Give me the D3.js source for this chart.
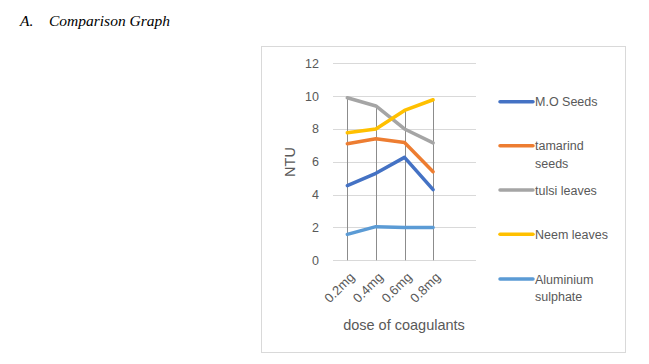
<!DOCTYPE html>
<html><head><meta charset="utf-8">
<script src="https://cdn.jsdelivr.net/npm/d3@7"></script>
<style>body{margin:0;background:#fff}svg{display:block}</style>
</head><body>
<script>
const categories = ["0.2mg","0.4mg","0.6mg","0.8mg"];
const seriesNames = ["M.O Seeds","tamarind seeds","tulsi leaves","Neem leaves","Aluminium sulphate"];
const moSeeds = [4.55, 5.3, 6.27, 4.3];
const tamarind = [7.1, 7.4, 7.17, 5.4];
const tulsi = [9.9, 9.4, 8.0, 7.15];
const neem = [7.77, 8.0, 9.13, 9.78];
const alum = [1.58, 2.05, 2.0, 2.0];
const yTicks = [0,2,4,6,8,10,12];
const colors = ["#4472C4","#ED7D31","#A5A5A5","#FFC000","#5B9BD5"];
const data = [moSeeds, tamarind, tulsi, neem, alum];

const W=649,H=364;
const svg=d3.select("body").append("svg").attr("width",W).attr("height",H);
const font="'Liberation Sans', Arial, sans-serif";

svg.append("text").attr("x",20).attr("y",26).attr("font-family","'Liberation Serif', serif")
  .attr("font-style","italic").attr("font-size",15.5).attr("fill","#000").text("A.");
svg.append("text").attr("x",49).attr("y",26).attr("font-family","'Liberation Serif', serif")
  .attr("font-style","italic").attr("font-size",15.5).attr("fill","#000").text("Comparison Graph");

svg.append("rect").attr("x",261.5).attr("y",46.5).attr("width",364).attr("height",306)
  .attr("fill","#fff").attr("stroke","#d9d9d9");

const x=d3.scaleBand().domain([...categories,""]).range([333,476]);
const y=d3.scaleLinear().domain([0,12]).range([260.3,63.3]);

// gridlines
svg.append("g").selectAll("line").data(yTicks).join("line")
  .attr("x1",333).attr("x2",476).attr("y1",d=>Math.round(y(d))+0.5).attr("y2",d=>Math.round(y(d))+0.5)
  .attr("stroke","#d9d9d9").attr("stroke-width",1);

svg.append("g").selectAll("text").data(yTicks).join("text")
  .attr("x",319).attr("y",d=>y(d)+4.5).attr("text-anchor","end")
  .attr("font-family",font).attr("font-size",12.5).attr("fill","#595959").text(d=>d);

// drop lines
const cx=c=>x(c)+x.bandwidth()/2;
svg.append("g").selectAll("line").data(categories).join("line")
  .attr("x1",c=>Math.round(cx(c))+0.5).attr("x2",c=>Math.round(cx(c))+0.5)
  .attr("y1",(c,i)=>y(d3.max(data,s=>s[i]))).attr("y2",y(0))
  .attr("stroke","#8c8c8c").attr("stroke-width",1);

// lines
const line=d3.line().x((d,i)=>cx(categories[i])).y(d=>y(d));
svg.append("g").selectAll("path").data(data).join("path")
  .attr("d",d=>line(d)).attr("fill","none").attr("stroke",(d,i)=>colors[i])
  .attr("stroke-width",3.5).attr("stroke-linejoin","round").attr("stroke-linecap","round");

// x tick labels
svg.append("g").selectAll("text").data(categories).join("text")
  .attr("transform",c=>`translate(${cx(c)+8},${278}) rotate(-45)`)
  .attr("text-anchor","end").attr("font-family",font).attr("font-size",13).attr("fill","#595959").text(c=>c);

svg.append("text").attr("x",404).attr("y",330).attr("text-anchor","middle")
  .attr("font-family",font).attr("font-size",14.5).attr("fill","#595959").text("dose of coagulants");
svg.append("text").attr("transform","translate(295,162) rotate(-90)").attr("text-anchor","middle")
  .attr("font-family",font).attr("font-size",14.5).attr("fill","#595959").text("NTU");

// legend
const legY=[101.7,145.7,190,234.3,279];
const legLines=[["M.O Seeds"],["tamarind","seeds"],["tulsi leaves"],["Neem leaves"],["Aluminium","sulphate"]];
const lg=svg.append("g");
seriesNames.forEach((n,i)=>{
  lg.append("line").attr("x1",500).attr("x2",533).attr("y1",legY[i]).attr("y2",legY[i])
    .attr("stroke",colors[i]).attr("stroke-width",3.5).attr("stroke-linecap","round");
  const t=lg.append("text").attr("x",535).attr("y",legY[i]+4.5).attr("font-family",font)
    .attr("font-size",12.5).attr("fill","#595959");
  legLines[i].forEach((s,j)=>t.append("tspan").attr("x",535).attr("dy",j?17.5:0).text(s));
});
</script>
</body></html>
